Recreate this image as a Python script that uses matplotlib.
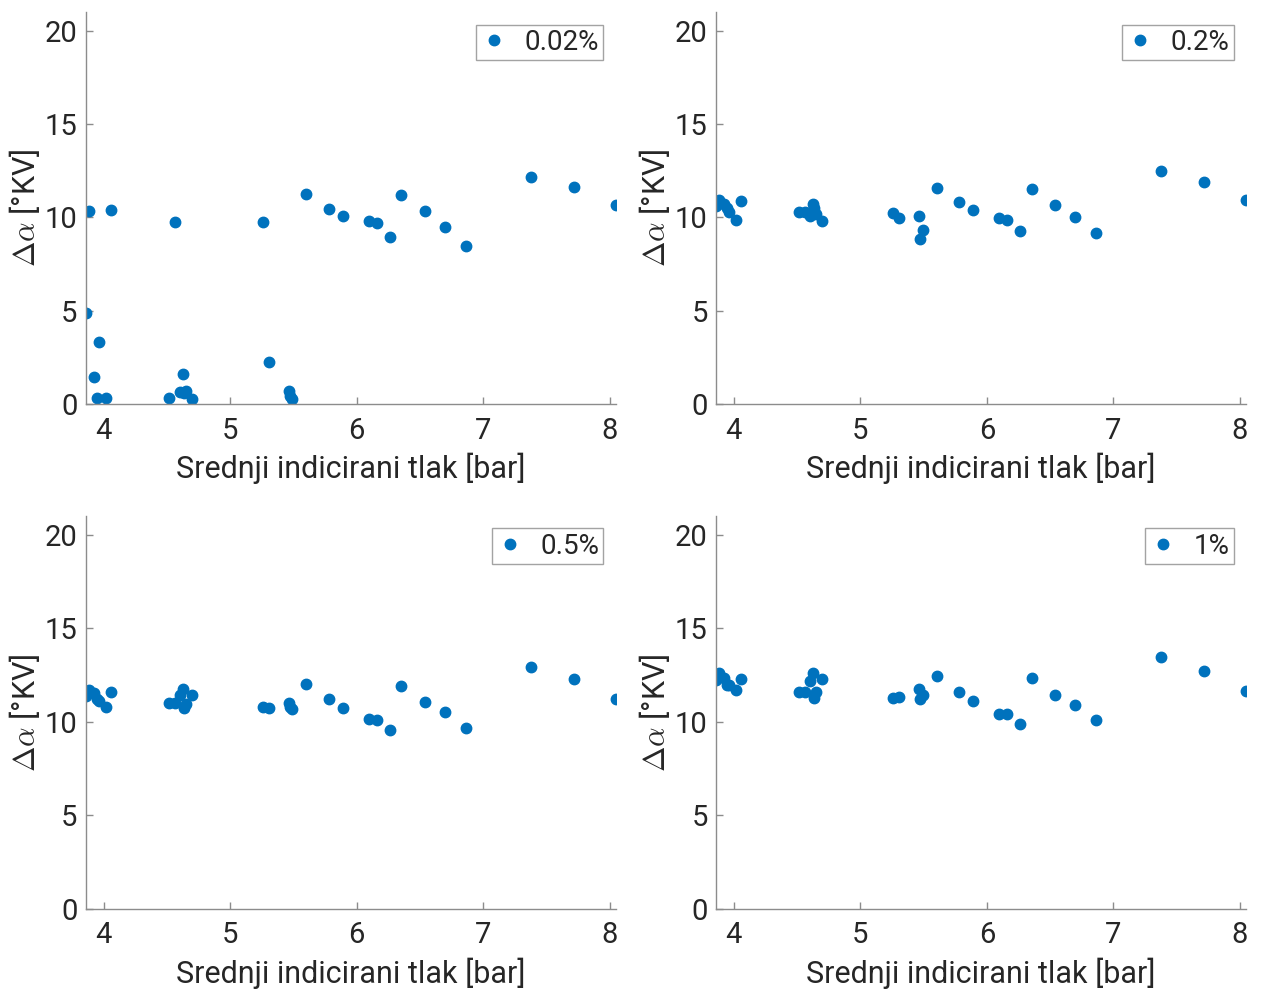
import matplotlib.pyplot as plt

plt.rcParams["font.family"] = ["Roboto", "DejaVu Sans"]
plt.rcParams["mathtext.fontset"] = "cm"

# mean indicated pressure [bar], shared by all four panels
pressure = [3.861, 3.883, 3.927, 3.946, 3.962, 4.022, 4.057,
            4.516, 4.564, 4.605, 4.627, 4.635, 4.652, 4.697,
            5.260, 5.305, 5.466, 5.473, 5.492,
            5.603, 5.783, 5.891, 6.097, 6.157, 6.264, 6.353,
            6.540, 6.695, 6.866, 7.373, 7.715, 8.048]

d_002 = [4.89, 10.36, 1.46, 0.32, 3.34, 0.32, 10.41,
         0.32, 9.77, 0.63, 1.61, 0.60, 0.70, 0.25,
         9.75, 2.27, 0.71, 0.43, 0.25,
         11.25, 10.45, 10.09, 9.79, 9.68, 8.95, 11.21,
         10.36, 9.50, 8.45, 12.18, 11.64, 10.68]

d_02 = [10.63, 10.95, 10.71, 10.48, 10.27, 9.88, 10.86,
        10.31, 10.27, 10.09, 10.71, 10.48, 10.18, 9.82,
        10.21, 9.96, 10.05, 8.84, 9.34,
        11.58, 10.80, 10.39, 9.95, 9.88, 9.27, 11.53,
        10.68, 10.02, 9.16, 12.51, 11.91, 10.93]

d_05 = [11.38, 11.70, 11.52, 11.20, 11.12, 10.81, 11.60,
        10.98, 11.02, 11.46, 11.73, 10.72, 10.95, 11.42,
        10.81, 10.72, 11.03, 10.78, 10.67,
        12.02, 11.20, 10.76, 10.17, 10.12, 9.58, 11.94,
        11.04, 10.51, 9.69, 12.95, 12.27, 11.24]

d_1 = [12.24, 12.60, 12.36, 11.97, 11.95, 11.70, 12.31,
       11.61, 11.61, 12.20, 12.60, 11.25, 11.60, 12.30,
       11.29, 11.35, 11.76, 11.22, 11.44,
       12.45, 11.60, 11.13, 10.44, 10.40, 9.90, 12.35,
       11.44, 10.92, 10.12, 13.45, 12.70, 11.63]

labels = ["0.02%", "0.2%", "0.5%", "1%"]
series = [d_002, d_02, d_05, d_1]

fig = plt.figure(figsize=(12.62, 9.93), dpi=100)
positions = [
    [0.0681, 0.5931, 0.420, 0.3948],
    [0.5674, 0.5931, 0.420, 0.3948],
    [0.0681, 0.0846, 0.420, 0.3958],
    [0.5674, 0.0846, 0.420, 0.3958],
]

txt = "#262626"
axc = "#8c8c8c"

for pos, vals, lab in zip(positions, series, labels):
    ax = fig.add_axes(pos)
    ax.plot(pressure, vals, "o", color="#0072BD", markersize=7.5, label=lab)
    ax.set_xlim(3.861, 8.048)
    ax.set_ylim(0, 21)
    ax.set_xticks([4, 5, 6, 7, 8])
    ax.set_yticks([0, 5, 10, 15, 20])
    for s in ["top", "right"]:
        ax.spines[s].set_visible(False)
    for s in ["left", "bottom"]:
        ax.spines[s].set_color(axc)
        ax.spines[s].set_linewidth(1.0)
    ax.tick_params(direction="in", length=5, width=1.0, color=axc,
                   labelsize=21, labelcolor=txt)
    ax.tick_params(axis="x", pad=9)
    ax.tick_params(axis="y", pad=6)
    ax.set_xlabel("Srednji indicirani tlak [bar]", fontsize=22, color=txt, labelpad=6)
    ax.set_ylabel(r"$\Delta\alpha$ [°KV]", fontsize=22, color=txt, labelpad=2)
    leg = ax.legend(loc="upper right", fontsize=20, frameon=True, fancybox=False,
                    handlelength=1.0, handletextpad=0.6, borderpad=0.15,
                    borderaxespad=0.45)
    leg.get_frame().set_edgecolor(axc)
    leg.get_frame().set_linewidth(1.0)
    for t in leg.get_texts():
        t.set_color(txt)

fig.savefig("out.png", dpi=100)
